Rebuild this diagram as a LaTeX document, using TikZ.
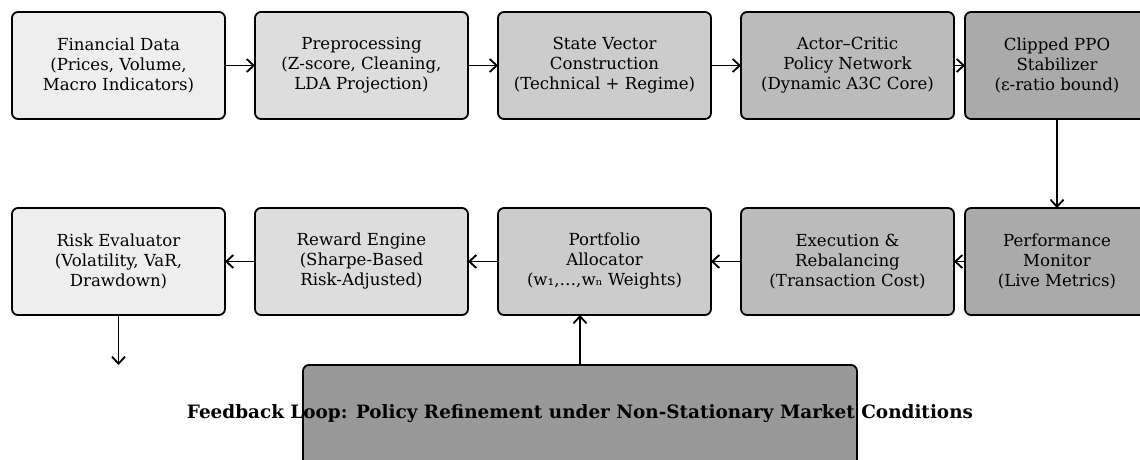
\documentclass[tikz,border=0pt]{standalone}
\usepackage{fontspec}
\setmainfont{DejaVu Serif}
\usetikzlibrary{arrows.meta,positioning}

\begin{document}
\begin{tikzpicture}[x=1pt, y=-1pt,
    stage/.style={draw, line width=1.8pt, rounded corners=6pt, minimum width=213pt,
        minimum height=107pt, inner sep=0pt, outer sep=0pt, align=center,
        font=\fontsize{16.6}{20}\selectfont},
    flow/.style={-{Straight Barb[length=7pt, width=13pt]}, line width=1.8pt}]

    % Define custom colors
    \definecolor{grayA}{RGB}{238, 238, 238}
    \definecolor{grayB}{RGB}{221, 221, 221}
    \definecolor{grayC}{RGB}{204, 204, 204}
    \definecolor{grayD}{RGB}{187, 187, 187}
    \definecolor{grayE}{RGB}{170, 170, 170}
    \definecolor{grayF}{RGB}{153, 153, 153}

    % 1. Viewport
    \clip (0,0) rectangle (1140,459);

    % 2. Top row (left to right)
    \node[stage, fill=grayA] (FD) at (118.5,65.5) {Financial Data\\(Prices, Volume,\\Macro Indicators)};
    \node[stage, fill=grayB, right=30pt of FD] (PP) {Preprocessing\\(Z-score, Cleaning,\\LDA Projection)};
    \node[stage, fill=grayC, right=30pt of PP] (SV) {State Vector\\Construction\\(Technical + Regime)};
    \node[stage, fill=grayD, right=30pt of SV] (AC) {Actor–Critic\\Policy Network\\(Dynamic A3C Core)};
    \node[stage, fill=grayE, right=11pt of AC, minimum width=184pt] (PPO) {Clipped PPO\\Stabilizer\\(ε-ratio bound)};

    % 3. Bottom row (right to left)
    \node[stage, fill=grayE, below=89pt of PPO, minimum width=184pt] (PM) {Performance\\Monitor\\(Live Metrics)};
    \node[stage, fill=grayD, left=11pt of PM] (ER) {Execution \&\\Rebalancing\\(Transaction Cost)};
    \node[stage, fill=grayC, left=30pt of ER] (PA) {Portfolio\\Allocator\\(w₁,…,wₙ Weights)};
    \node[stage, fill=grayB, left=30pt of PA] (RE) {Reward Engine\\(Sharpe-Based\\Risk-Adjusted)};
    \node[stage, fill=grayA, left=30pt of RE] (RV) {Risk Evaluator\\(Volatility, VaR,\\Drawdown)};

    % 4. Feedback loop box (text runs past its sides)
    \node[stage, fill=grayF, minimum width=554pt, minimum height=120pt] (FB) at (580,425) {};
    \node[font=\fontsize{18.4}{20}\selectfont\bfseries] (FBT) at ([yshift=11pt]FB.center)
        {Feedback Loop: Policy Refinement under Non-Stationary Market Conditions};

    % 5. Arrows
    \draw[flow] (FD) -- (PP);
    \draw[flow] (PP) -- (SV);
    \draw[flow] (SV) -- (AC);
    \draw[flow] (AC) -- (PPO);
    \draw[flow] (PPO) -- (PM);
    \draw[flow] (PM) -- (ER);
    \draw[flow] (ER) -- (PA);
    \draw[flow] (PA) -- (RE);
    \draw[flow] (RE) -- (RV);
    \coordinate (RVout) at ([yshift=-50pt]RV.south);
    \draw[flow] (RV) -- (RVout);
    \draw[flow] (FB.north) -- (FB.north |- PA.south);

\end{tikzpicture}
\end{document}
